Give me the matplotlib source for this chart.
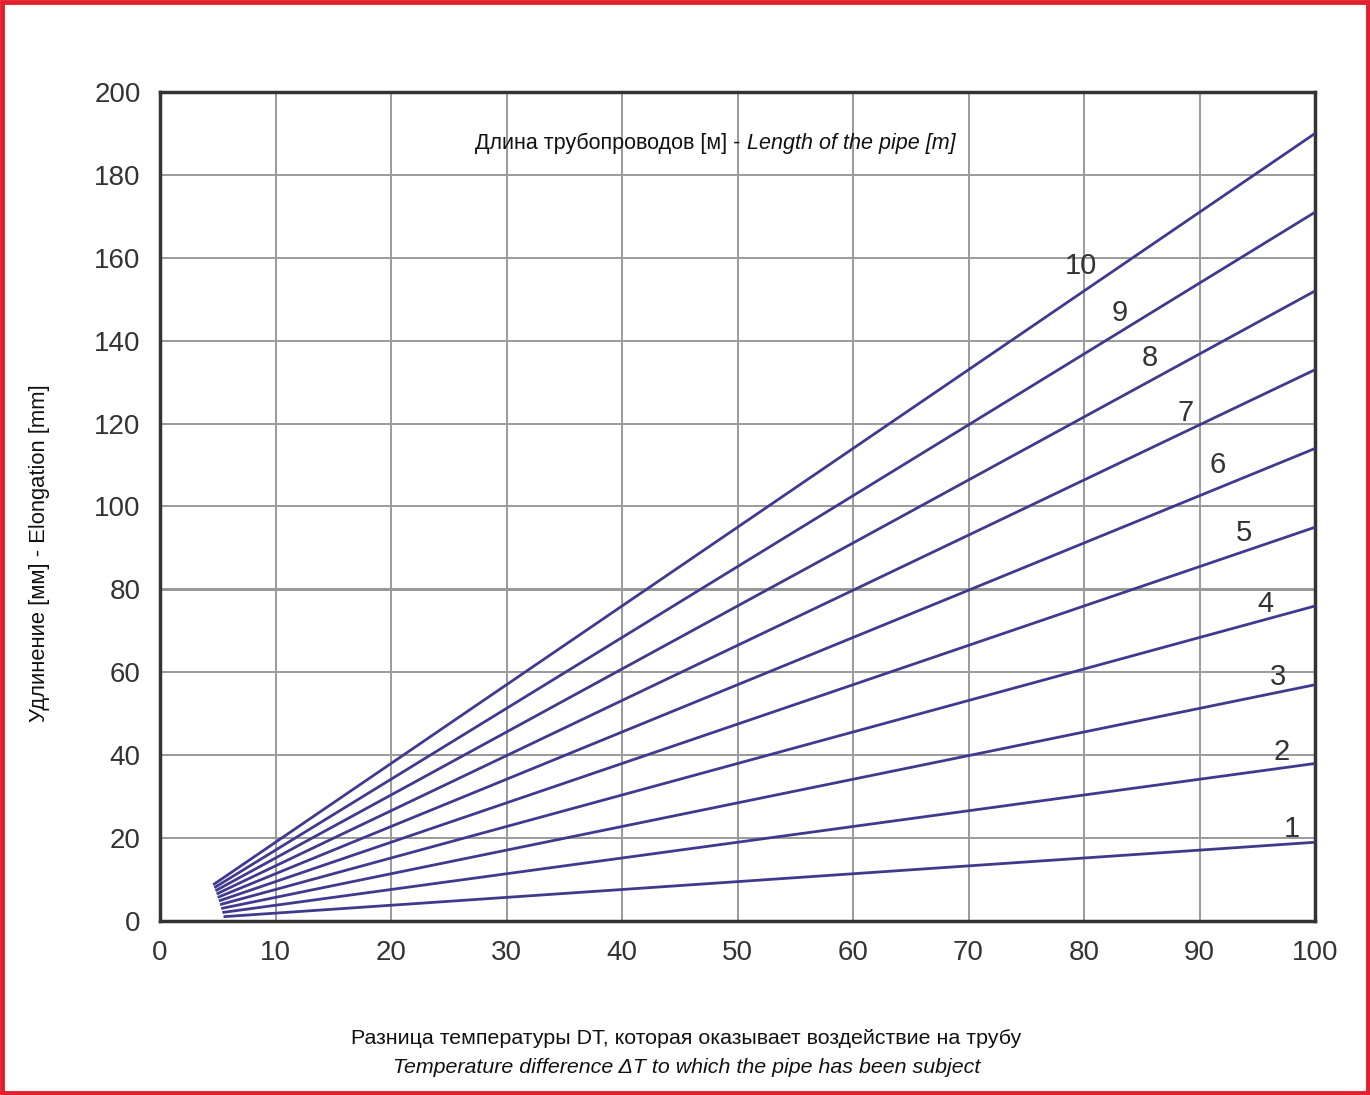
import numpy as np
import matplotlib.pyplot as plt
from matplotlib.patches import Rectangle

plt.rcParams['font.family'] = ['Liberation Sans', 'DejaVu Sans']

# pipe lengths [m] and elongation at DT = 100 [mm]
lengths = np.array([1, 2, 3, 4, 5, 6, 7, 8, 9, 10])
elong_at_100 = np.array([19, 38, 57, 76, 95, 114, 133, 152, 171, 190])
# DT where each curve starts
dt_start = np.array([5.5, 5.4, 5.3, 5.2, 5.1, 5.0, 4.9, 4.8, 4.7, 4.6])
dt_end = 100

x_ticks = [0, 10, 20, 30, 40, 50, 60, 70, 80, 90, 100]
y_ticks = [0, 20, 40, 60, 80, 100, 120, 140, 160, 180, 200]

# where the length numbers sit along each line (x) and how far above it (y)
label_x = [98.0, 97.1, 96.8, 95.7, 93.8, 91.6, 88.8, 85.7, 83.1, 79.7]
label_dy = [3.5, 3.9, 3.8, 3.8, 4.5, 5.5, 4.5, 5.5, 4.5, 6.5]

line_color = '#3f3a8e'
text_color = '#333333'

fig = plt.figure(figsize=(13.7, 10.95), dpi=100)
ax = fig.add_axes([0.1168, 0.1589, 0.8431, 0.7571])

for L, y100, x0, lx, dy in zip(lengths, elong_at_100, dt_start, label_x, label_dy):
    k = y100 / dt_end
    xs = np.array([x0, dt_end])
    ax.plot(xs, k * xs, color=line_color, lw=2.0, solid_capstyle='butt', zorder=3)
    ax.text(lx, k * lx + dy, str(L), fontsize=21, color=text_color,
            ha='center', va='center', zorder=4)

ax.set_xlim(0, 100)
ax.set_ylim(0, 200)
ax.set_xticks(x_ticks)
ax.set_yticks(y_ticks)
ax.tick_params(length=0, labelsize=20, labelcolor=text_color)
ax.tick_params(axis='y', pad=14)
ax.tick_params(axis='x', pad=14)
ax.grid(True, color='#9a9a9a', lw=1.4, zorder=1)
ax.axhline(80, color='#777777', lw=1.8, zorder=1)
for s in ax.spines.values():
    s.set_color('#333333')
    s.set_linewidth(2.5)

fig.text(0.545, 0.869, 'Длина трубопроводов [м] - ', fontsize=15.5, color='#111111',
         ha='right', va='center')
fig.text(0.545, 0.869, 'Length of the pipe [m]', fontsize=15.5, color='#111111',
         ha='left', va='center', style='italic')

fig.text(0.029, 0.495, 'Удлинение [мм] - Elongation [mm]', fontsize=15.8, color='#111111',
         rotation=90, ha='center', va='center')
fig.text(0.501, 0.052, 'Разница температуры DT, которая оказывает воздействие на трубу',
         fontsize=15.4, color='#111111', ha='center', va='center')
fig.text(0.501, 0.025, 'Temperature difference ΔT to which the pipe has been subject',
         fontsize=15.4, color='#111111', ha='center', va='center', style='italic')

fig.patches.append(Rectangle((0.0015, 0.002), 0.997, 0.996, transform=fig.transFigure,
                             fill=False, edgecolor='#e2202b', lw=3.5))

fig.savefig('out.png', dpi=100)
